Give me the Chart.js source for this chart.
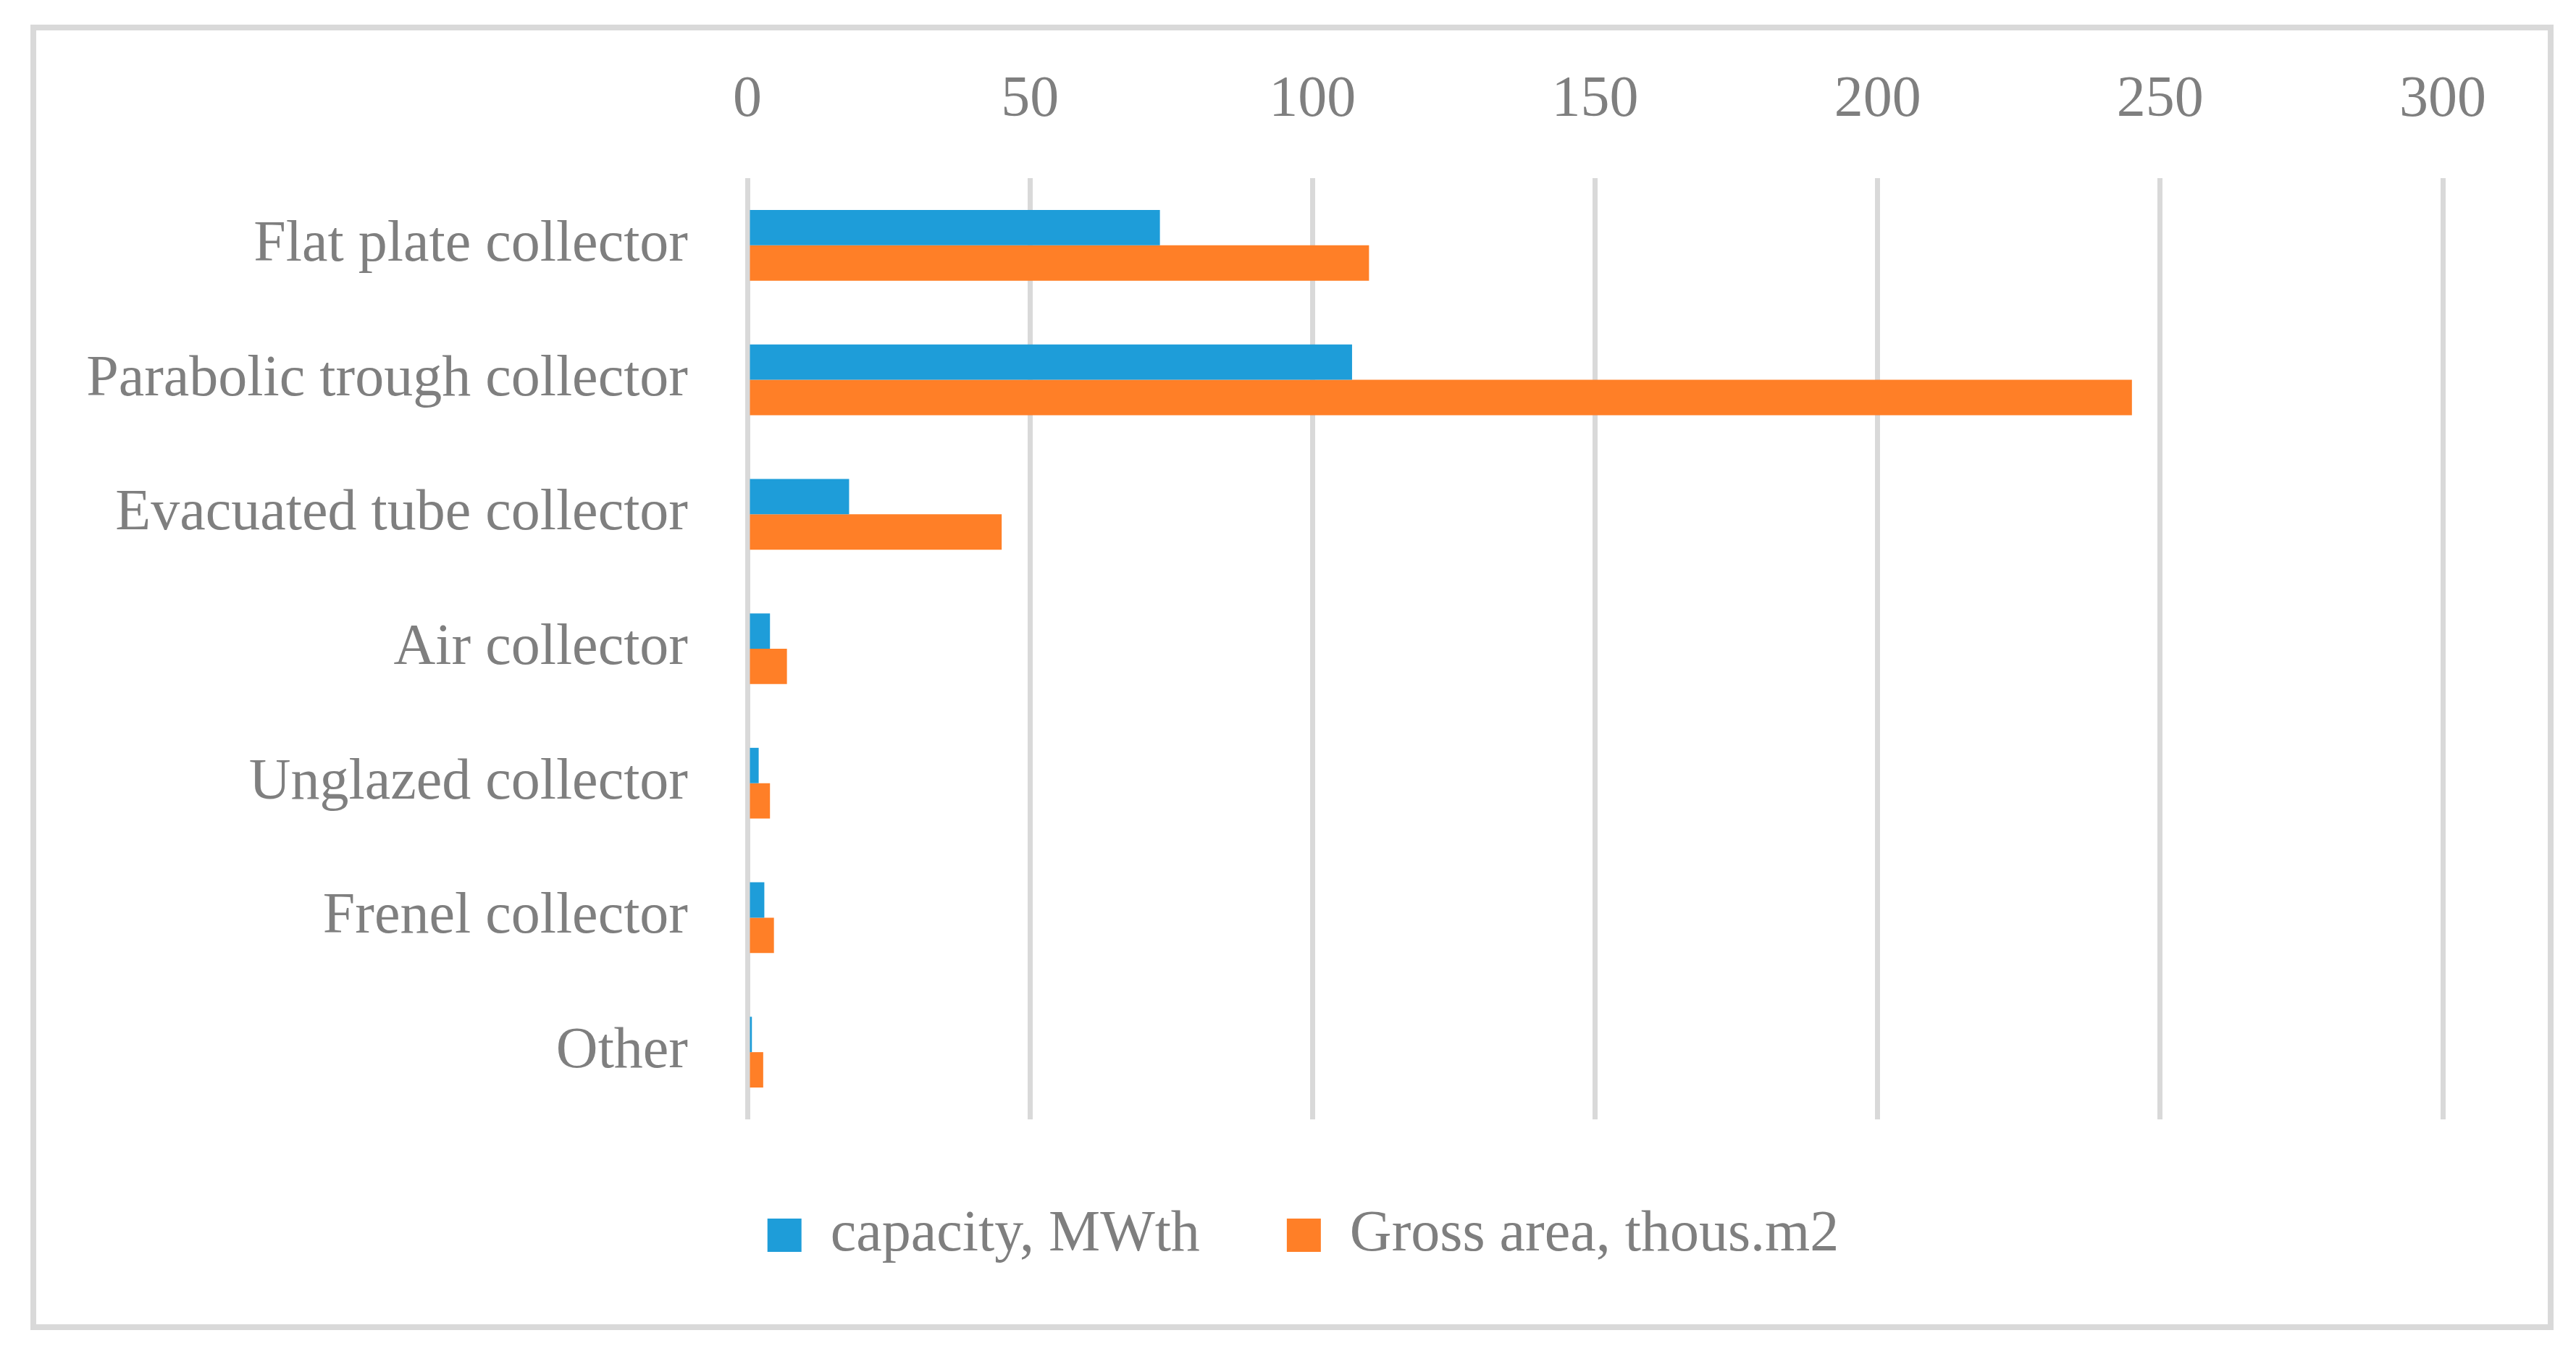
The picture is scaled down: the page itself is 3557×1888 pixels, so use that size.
<!DOCTYPE html>
<html>
<head>
<meta charset="utf-8">
<script src="https://cdn.jsdelivr.net/npm/chart.js@4"></script>
<style>
  html, body { margin: 0; padding: 0; background: #ffffff; }
  #frame { position: absolute; left: 42px; top: 34px; width: 3468px; height: 1787px; border: 8px solid #d9d9d9; }
  #c { position: absolute; left: 0; top: 0; }
</style>
</head>
<body>
<div id="frame"></div>
<canvas id="c" width="3557" height="1888"></canvas>
<script>
const categories = [
  "Flat plate collector",
  "Parabolic trough collector",
  "Evacuated tube collector",
  "Air collector",
  "Unglazed collector",
  "Frenel collector",
  "Other"
];
const capacityMWth = [73, 107, 18, 4, 2, 3, 0.8];
const grossAreaThousM2 = [110, 245, 45, 7, 4, 4.7, 2.8];
const seriesNames = ["capacity, MWth", "Gross area, thous.m2"];
const xTicks = [0, 50, 100, 150, 200, 250, 300];

const textColor = "#7f7f7f";
const fontFamily = "'Liberation Serif', 'Times New Roman', serif";
const fontSize = 80;

const legendShift = {
  id: "legendShift",
  afterLayout(chart) {
    if (chart.legend) {
      chart.legend.left += 113;
      chart.legend.right += 113;
    }
  }
};

new Chart(document.getElementById("c"), {
  type: "bar",
  data: {
    labels: categories,
    datasets: [
      { label: seriesNames[0], data: capacityMWth, backgroundColor: "#1e9dd9", categoryPercentage: 1 / 1.9, barPercentage: 1 },
      { label: seriesNames[1], data: grossAreaThousM2, backgroundColor: "#ff7f27", categoryPercentage: 1 / 1.9, barPercentage: 1 }
    ]
  },
  plugins: [legendShift],
  options: {
    indexAxis: "y",
    responsive: false,
    devicePixelRatio: 1,
    animation: false,
    layout: { padding: { top: 60, right: 184, bottom: 132, left: 0 } },
    plugins: {
      tooltip: { enabled: false },
      legend: {
        position: "bottom",
        labels: {
          color: textColor,
          font: { family: fontFamily, size: fontSize },
          boxWidth: 47,
          boxHeight: 46,
          padding: 120
        }
      }
    },
    scales: {
      x: {
        position: "top",
        min: xTicks[0],
        max: xTicks[xTicks.length - 1],
        afterBuildTicks: (s) => { s.ticks = xTicks.map(v => ({ value: v })); },
        afterFit: (s) => { s.height = 186; },
        grid: { color: "#d9d9d9", lineWidth: 7, drawTicks: false },
        border: { display: false },
        ticks: { color: textColor, font: { family: fontFamily, size: fontSize }, padding: 59, maxRotation: 0 }
      },
      y: {
        afterFit: (s) => { s.width = 1032; },
        grid: { display: false, drawTicks: false },
        border: { display: false },
        ticks: { color: textColor, font: { family: fontFamily, size: fontSize }, padding: 82 }
      }
    }
  }
});
</script>
</body>
</html>
